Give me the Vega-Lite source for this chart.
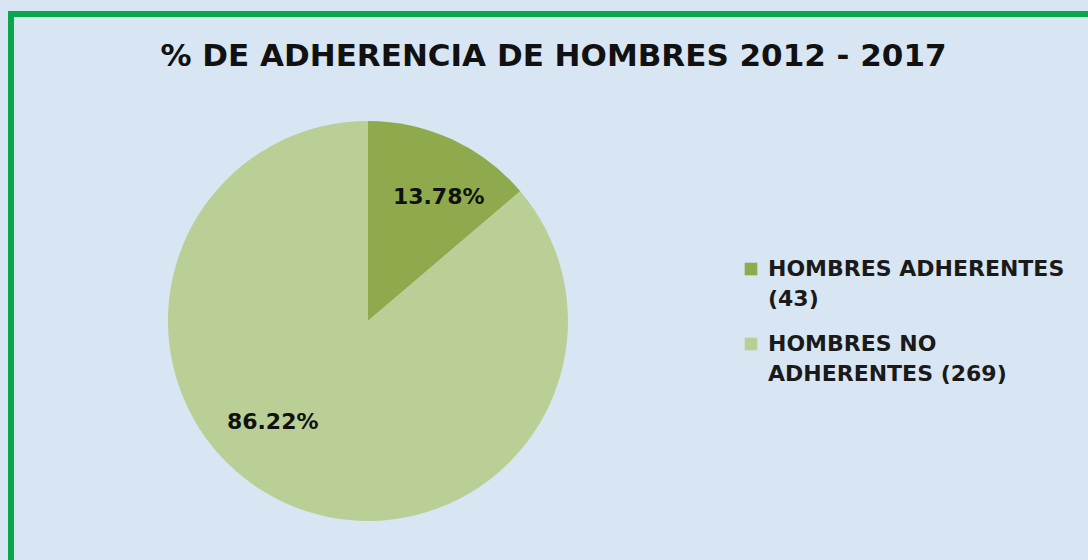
{
  "$schema": "https://vega.github.io/schema/vega-lite/v6.json",
  "width": 1085,
  "height": 555,
  "autosize": "none",
  "padding": {"left": 11, "top": 14, "right": 0, "bottom": 0},
  "background": "#d8e6f4",
  "view": {"stroke": "#0aa64b", "strokeWidth": 6, "fill": "#d8e6f4"},
  "config": {
    "view": {"stroke": "#0aa64b", "strokeWidth": 6, "fill": "#d8e6f4"},
    "style": {"guide-label": {"lineHeight": 30}}
  },
  "title": {
    "text": "% DE ADHERENCIA DE HOMBRES 2012 - 2017",
    "font": "DejaVu Sans",
    "fontSize": 31,
    "fontWeight": "bold",
    "color": "#111111",
    "anchor": "middle",
    "baseline": "alphabetic",
    "offset": -54,
    "dy": 29
  },
  "data": {
    "values": [
      {"categoria": "HOMBRES ADHERENTES (43)", "n": 43, "pct": "13.78%", "orden": 1},
      {"categoria": "HOMBRES NO ADHERENTES (269)", "n": 269, "pct": "86.22%", "orden": 2}
    ]
  },
  "encoding": {
    "theta": {"field": "n", "type": "quantitative", "stack": true},
    "order": {"field": "orden", "type": "quantitative"}
  },
  "layer": [
    {
      "mark": {"type": "arc", "outerRadius": 200, "x": {"expr": "width*0.329"}, "y": {"expr": "height*0.553"}},
      "encoding": {
        "color": {
          "field": "categoria",
          "type": "nominal",
          "sort": ["HOMBRES ADHERENTES (43)", "HOMBRES NO ADHERENTES (269)"],
          "scale": {"domain": ["HOMBRES ADHERENTES (43)", "HOMBRES NO ADHERENTES (269)"], "range": ["#8eaa4c", "#bacf95"]},
          "legend": {
            "title": null,
            "orient": "none",
            "legendX": 729,
            "legendY": 244,
            "symbolType": "square",
            "symbolSize": 160,
            "symbolStrokeWidth": 0,
            "labelFont": "DejaVu Sans",
            "labelFontSize": 22,
            "labelFontWeight": "bold",
            "labelColor": "#1a1a1a",
            "labelLimit": 400,
            "labelOffset": 6,
            "rowPadding": 23,
            "labelExpr": "datum.label == 'HOMBRES ADHERENTES (43)' ? ['HOMBRES ADHERENTES', '(43)'] : ['HOMBRES NO', 'ADHERENTES (269)']"
          }
        }
      }
    },
    {
      "transform": [{"filter": "datum.orden == 1"}],
      "mark": {"type": "text", "radius": 140, "dx": 12, "dy": 3, "x": {"expr": "width*0.329"}, "y": {"expr": "height*0.553"}, "font": "DejaVu Sans", "fontSize": 22, "fontWeight": "bold", "color": "#111111"},
      "encoding": {"text": {"field": "pct", "type": "nominal"}}
    },
    {
      "transform": [{"filter": "datum.orden == 2"}],
      "mark": {"type": "text", "radius": 140, "dx": -154, "dy": -26, "x": {"expr": "width*0.329"}, "y": {"expr": "height*0.553"}, "font": "DejaVu Sans", "fontSize": 22, "fontWeight": "bold", "color": "#111111"},
      "encoding": {"text": {"field": "pct", "type": "nominal"}}
    }
  ]
}
